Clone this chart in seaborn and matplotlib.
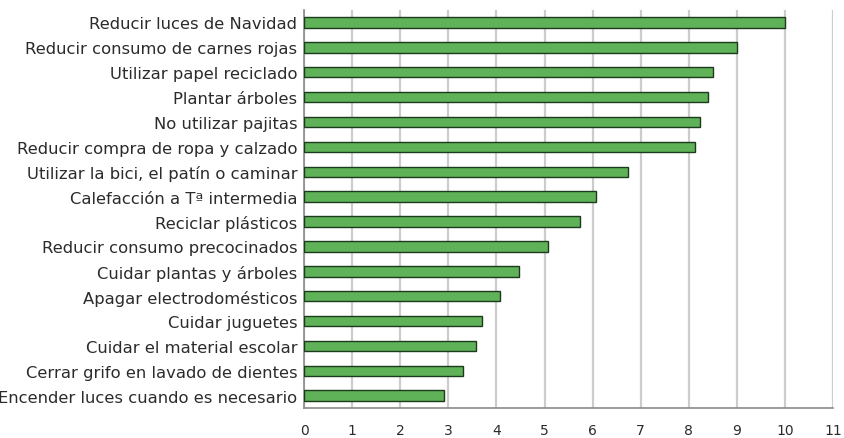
import matplotlib
matplotlib.use("Agg")
import matplotlib.pyplot as plt
import numpy as np
import pandas as pd
import seaborn as sns

# Data
acciones = [
    "Reducir luces de Navidad",
    "Reducir consumo de carnes rojas",
    "Utilizar papel reciclado",
    "Plantar árboles",
    "No utilizar pajitas",
    "Reducir compra de ropa y calzado",
    "Utilizar la bici, el patín o caminar",
    "Calefacción a Tª intermedia",
    "Reciclar plásticos",
    "Reducir consumo precocinados",
    "Cuidar plantas y árboles",
    "Apagar electrodomésticos",
    "Cuidar juguetes",
    "Cuidar el material escolar",
    "Cerrar grifo en lavado de dientes",
    "Encender luces cuando es necesario",
]
puntuacion = [10.0, 9.0, 8.5, 8.4, 8.24, 8.13, 6.74, 6.07,
              5.73, 5.07, 4.46, 4.07, 3.69, 3.57, 3.30, 2.91]
x_ticks = list(range(0, 12))

df = pd.DataFrame({"accion": acciones, "valor": puntuacion})

sns.set_style("white")
plt.rcParams["font.family"] = ["DejaVu Sans"]

fig = plt.figure(figsize=(8.45, 4.39), dpi=100)
ax = fig.add_axes([0.36, 0.068, 0.6258, 0.907])

sns.barplot(data=df, x="valor", y="accion", orient="h", order=acciones,
            color="#5fb257", saturation=1, width=0.42,
            edgecolor="#1e3a1e", linewidth=1.0, ax=ax, zorder=3)

ax.set_xlim(0, 11)
ax.set_ylim(len(acciones) - 0.5, -0.5)
ax.set_xticks(x_ticks)
ax.set_xlabel("")
ax.set_ylabel("")

ax.grid(axis="x", color="#cccccc", linewidth=1.6, zorder=0)
ax.set_axisbelow(True)

for side in ["top", "right"]:
    ax.spines[side].set_visible(False)
for side in ["left", "bottom"]:
    ax.spines[side].set_color("#8a8a8a")
    ax.spines[side].set_linewidth(1.2)

# category boundary ticks on the y axis
ax.set_yticks(np.arange(-0.5, len(acciones), 1.0), minor=True)
ax.tick_params(axis="y", which="major", length=0, pad=5, labelsize=11.8,
               labelcolor="#2b2b2b")
ax.tick_params(axis="y", which="minor", length=5, color="#8a8a8a", width=1.0)
ax.tick_params(axis="x", which="major", length=5, color="#8a8a8a", width=1.0,
               pad=6, labelsize=10, labelcolor="#2b2b2b")

fig.savefig("out.png", dpi=100)
